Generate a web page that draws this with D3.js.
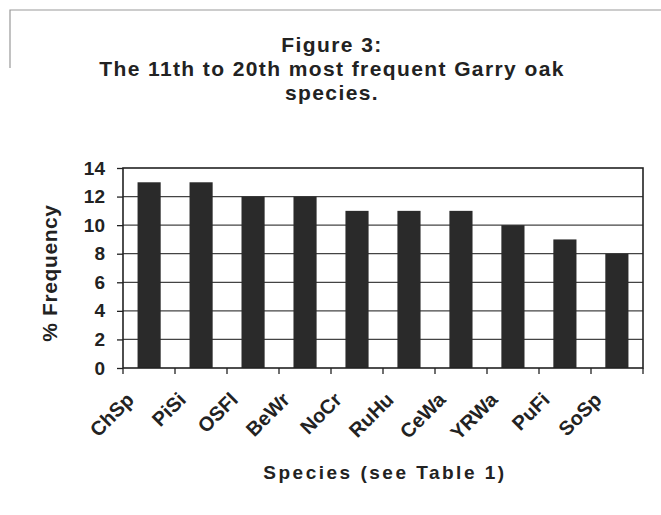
<!DOCTYPE html>
<html><head><meta charset="utf-8">
<script src="https://cdn.jsdelivr.net/npm/d3@7"></script>
<style>body{margin:0;background:#fff}svg{display:block}text{font-family:"Liberation Sans",Arial,sans-serif;fill:#222}</style>
</head><body>
<script>
const categories = ["ChSp","PiSi","OSFl","BeWr","NoCr","RuHu","CeWa","YRWa","PuFi","SoSp"];
const values = [13,13,12,12,11,11,11,10,9,8];
const yTicks = [0,2,4,6,8,10,12,14];
const titleLines = ["Figure 3:","The 11th to 20th most frequent Garry oak","species."];

const W=661,H=515;
const m={l:123,r:18,t:168,b:147};
const svg=d3.select("body").append("svg").attr("width",W).attr("height",H);
// scan frame
svg.append("path").attr("d","M10,68 V10 H661").attr("fill","none").attr("stroke","#999").attr("stroke-width",1.2);

const x=d3.scaleBand().domain(categories).range([m.l,W-m.r]).paddingInner(0.555).paddingOuter(0.28);
const y=d3.scaleLinear().domain([0,14]).range([H-m.b,m.t]);

// gridlines
svg.append("g").selectAll("line").data(yTicks.filter(d=>d>0&&d<14)).join("line")
 .attr("x1",m.l).attr("x2",W-m.r).attr("y1",d=>y(d)).attr("y2",d=>y(d))
 .attr("stroke","#444").attr("stroke-width",1.3);

// bars
svg.append("g").selectAll("rect").data(values).join("rect")
 .attr("x",(d,i)=>x(categories[i])).attr("width",x.bandwidth())
 .attr("y",d=>y(d)).attr("height",d=>y(0)-y(d)).attr("fill","#2a2a2a");

// frame
svg.append("rect").attr("x",m.l).attr("y",m.t).attr("width",W-m.r-m.l).attr("height",y(0)-m.t)
 .attr("fill","none").attr("stroke","#222").attr("stroke-width",1.6);

// y axis
const ya=svg.append("g").attr("transform",`translate(${m.l},0)`)
 .call(d3.axisLeft(y).tickValues(yTicks).tickSize(6).tickPadding(12));
ya.select(".domain").remove();
ya.selectAll("line").attr("stroke","#222").attr("stroke-width",1.3);
ya.selectAll("text").attr("font-size",19).attr("font-weight","bold").attr("fill","#222").style("font-family","Liberation Sans, Arial");

// x ticks at band boundaries
const bounds=d3.range(categories.length+1).map(i=>m.l+i*((W-m.r-m.l)/categories.length));
svg.append("g").selectAll("line").data(bounds).join("line")
 .attr("x1",d=>d).attr("x2",d=>d).attr("y1",y(0)).attr("y2",y(0)+6)
 .attr("stroke","#222").attr("stroke-width",1.3);

// x labels
svg.append("g").selectAll("text").data(categories).join("text")
 .attr("transform",d=>`translate(${x(d)+x.bandwidth()/2-14},${y(0)+33}) rotate(-45)`)
 .attr("text-anchor","end").attr("font-size",20).attr("font-weight","bold").text(d=>d);

// titles
svg.append("g").selectAll("text").data(titleLines).join("text")
 .attr("x",332).attr("y",(d,i)=>52+i*24).attr("text-anchor","middle")
 .attr("font-size",21).attr("font-weight","bold").attr("letter-spacing",1.4).text(d=>d);

svg.append("text").attr("x",385).attr("y",479).attr("text-anchor","middle")
 .attr("font-size",19).attr("font-weight","bold").attr("letter-spacing",2.5).text("Species (see Table 1)");

svg.append("text").attr("transform",`translate(57,273) rotate(-90)`)
 .attr("text-anchor","middle").attr("font-size",21).attr("font-weight","bold").attr("letter-spacing",0.6).text("% Frequency");
</script>
</body></html>
